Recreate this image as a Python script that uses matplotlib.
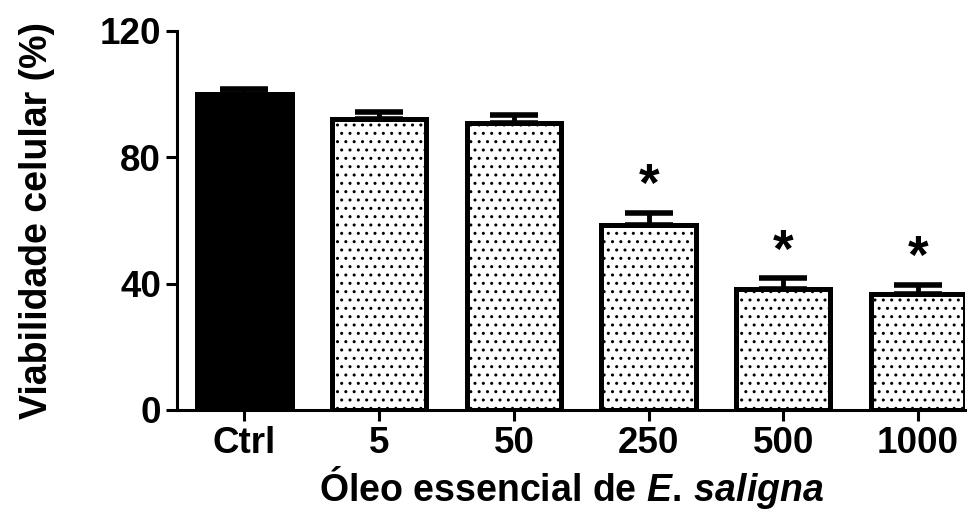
import matplotlib.pyplot as plt

categories = ['Ctrl', '5', '50', '250', '500', '1000']
viability = [100, 92, 91, 58.5, 38.3, 36.7]
sem = [1.5, 2.5, 2.5, 4.0, 3.5, 3.0]
significant = [False, False, False, True, True, True]

plt.rcParams['font.family'] = ['Liberation Sans', 'DejaVu Sans']
plt.rcParams['font.weight'] = 'bold'
plt.rcParams['hatch.linewidth'] = 1.0
plt.rcParams['mathtext.fontset'] = 'custom'
plt.rcParams['mathtext.it'] = 'Liberation Sans:italic:bold'
plt.rcParams['mathtext.rm'] = 'Liberation Sans:bold'

fig = plt.figure(figsize=(9.73, 5.13), dpi=100)
ax = fig.add_axes([0.182, 0.2008, 0.81, 0.7388])

x = list(range(len(categories)))
colors = ['black'] + ['white'] * (len(categories) - 1)
hatches = [''] + ['..'] * (len(categories) - 1)

ax.errorbar(x, viability, yerr=[[0] * len(sem), sem], fmt='none',
            ecolor='black', elinewidth=3.5, capsize=17, capthick=4, zorder=1)
bars = ax.bar(x, viability, width=0.7, color=colors, edgecolor='black',
              linewidth=3.6, zorder=2)
for b, h in zip(bars, hatches):
    b.set_hatch(h)

for xi, v, e, s in zip(x, viability, sem, significant):
    if s:
        ax.text(xi, v + e + 8, '*', ha='center', va='center',
                fontsize=38, fontweight='bold')

ax.set_xlim(-0.5, 5.35)
ax.set_ylim(0, 120)
ax.set_yticks([0, 40, 80, 120])
ax.set_xticks(x)
ax.set_xticklabels(categories)
ax.tick_params(axis='both', labelsize=26.5, width=2.2, length=8, direction='out')
for sp in ['top', 'right']:
    ax.spines[sp].set_visible(False)
for sp in ['left', 'bottom']:
    ax.spines[sp].set_linewidth(2.2)

ax.set_ylabel('Viabilidade celular (%)', fontsize=27, fontweight='bold', labelpad=32)
ax.set_xlabel(r'Óleo essencial de $\mathit{E.\,saligna}$', fontsize=27,
              fontweight='bold', labelpad=2)

fig.savefig('out.png', dpi=100)
